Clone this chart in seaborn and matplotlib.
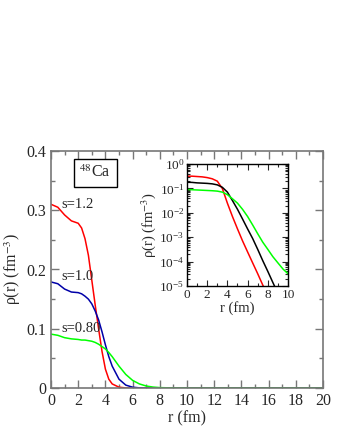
import numpy as np
import pandas as pd
import seaborn as sns
import matplotlib
matplotlib.use("Agg")
import matplotlib.pyplot as plt
from matplotlib.ticker import MultipleLocator, LogLocator, LogFormatterMathtext, NullFormatter

# main panel: rho(r) for three s values
r_main = [0, 0.5, 1.0, 1.5, 2.0, 2.25, 2.5, 2.75, 3.0, 3.25, 3.5, 3.75, 4.0, 4.25,
          4.5, 5.0, 5.5, 6.0, 6.5, 7.0, 7.5, 8.0, 9.0, 10.0, 20.0]
rho_s12 = [0.310, 0.305, 0.292, 0.282, 0.278, 0.270, 0.252, 0.224, 0.182, 0.140,
           0.100, 0.062, 0.032, 0.015, 0.007, 0.0015, 0.0003, 0.0, 0.0, 0.0, 0.0,
           0.0, 0.0, 0.0, 0.0]
rho_s10 = [0.179, 0.176, 0.167, 0.162, 0.161, 0.159, 0.155, 0.150, 0.142, 0.130,
           0.115, 0.095, 0.073, 0.053, 0.037, 0.015, 0.005, 0.0015, 0.0004, 0.0,
           0.0, 0.0, 0.0, 0.0, 0.0]
rho_s08 = [0.091, 0.089, 0.085, 0.083, 0.082, 0.081, 0.081, 0.080, 0.079, 0.077,
           0.074, 0.070, 0.066, 0.060, 0.053, 0.037, 0.023, 0.013, 0.007, 0.0035,
           0.0017, 0.0008, 0.0002, 0.0, 0.0]
s_labels = ["s=1.2", "s=1.0", "s=0.80"]
s_label_pos = [0.309, 0.188, 0.100]
y_ticks = [0, 0.1, 0.2, 0.3, 0.4]
y_ticklabels = ["0", "0.1", "0.2", "0.3", "0.4"]

# inset: log scale
r_in = [0, 0.5, 1.0, 1.5, 2.0, 2.5, 3.0, 3.5, 4.0, 4.5, 5.0, 5.5, 6.0, 6.5, 7.0,
        7.5, 8.0, 8.5, 9.0, 9.5, 10.0]
rho_in_red = [0.32, 0.32, 0.31, 0.30, 0.28, 0.25, 0.20, 0.10, 0.025, 7.1e-3, 2.2e-3,
              7.1e-4, 2.5e-4, 8.9e-5, 3.2e-5, 1.1e-5, 4e-6]
rho_in_black = [0.18, 0.178, 0.17, 0.166, 0.162, 0.155, 0.141, 0.112, 0.071, 0.032,
                0.014, 5.6e-3, 2.2e-3, 8.9e-4, 3.2e-4, 1.1e-4, 4e-5, 1.4e-5, 5e-6]
rho_in_green = [0.091, 0.089, 0.087, 0.085, 0.083, 0.081, 0.078, 0.071, 0.056, 0.038,
                0.025, 0.014, 7.1e-3, 3.2e-3, 1.4e-3, 6.3e-4, 3.2e-4, 1.6e-4, 8.9e-5,
                5e-5, 3.2e-5]

sns.set_style("ticks")
plt.rcParams["font.family"] = ["Liberation Serif", "DejaVu Serif"]
plt.rcParams["mathtext.fontset"] = "stix"

fig = plt.figure(figsize=(3.4, 4.4), dpi=100)
ax = fig.add_axes([0.15, 0.118, 0.80, 0.539])

main_colors = ["#ff0000", "#0000a8", "#00ff00"]
for vals, c in zip([rho_s12, rho_s10, rho_s08], main_colors):
    sns.lineplot(x=r_main, y=vals, color=c, lw=1.1, ax=ax)

for lab, yv in zip(s_labels, s_label_pos):
    ax.text(0.75, yv, lab, fontsize=10.5, va="center", ha="left")

ax.text(3.25, 0.363, "$^{48}$Ca", fontsize=11.5, ha="center", va="center",
        bbox=dict(boxstyle="square,pad=0.35", fc="white", ec="black", lw=1))

ax.set_xlim(0, 20)
ax.set_ylim(0, 0.4)
ax.xaxis.set_major_locator(MultipleLocator(2))
ax.xaxis.set_minor_locator(MultipleLocator(1))
ax.set_yticks(y_ticks, y_ticklabels)
ax.yaxis.set_minor_locator(MultipleLocator(0.05))
ax.tick_params(which="both", direction="in", top=True, right=True, labelsize=11.5,
               color="#777777", width=1)
ax.tick_params(which="major", length=6)
ax.tick_params(which="minor", length=3)
for sp in ax.spines.values():
    sp.set_color("#777777")
    sp.set_linewidth(1.2)
ax.set_xlabel("r (fm)", fontsize=11.5, labelpad=1)
ax.set_ylabel("ρ(r) (fm$^{-3}$)", fontsize=11.5, labelpad=2)

# inset
ins = fig.add_axes([0.55, 0.35, 0.297, 0.277])
inset_colors = ["#ff0000", "#000000", "#00ff00"]
for vals, c in zip([rho_in_red, rho_in_black, rho_in_green], inset_colors):
    sns.lineplot(x=r_in[:len(vals)], y=vals, color=c, lw=1.1, ax=ins)
ins.set_yscale("log")
ins.set_xlim(0, 10)
ins.set_ylim(1e-5, 1)
ins.xaxis.set_major_locator(MultipleLocator(2))
ins.xaxis.set_minor_locator(MultipleLocator(1))
ins.yaxis.set_major_locator(LogLocator(base=10, numticks=10))
ins.yaxis.set_minor_locator(LogLocator(base=10, subs=np.arange(2, 10), numticks=10))
ins.yaxis.set_major_formatter(LogFormatterMathtext())
ins.yaxis.set_minor_formatter(NullFormatter())
ins.tick_params(which="both", direction="in", top=True, right=True, labelsize=9.5,
                width=0.8, pad=2)
ins.tick_params(which="major", length=4)
ins.tick_params(which="minor", length=2)
for sp in ins.spines.values():
    sp.set_color("black")
    sp.set_linewidth(1)
ins.set_xlabel("r (fm)", fontsize=10.5, labelpad=0)
ins.set_ylabel("ρ(r) (fm$^{-3}$)", fontsize=10.5, labelpad=1)

fig.savefig("out.png", dpi=100)
